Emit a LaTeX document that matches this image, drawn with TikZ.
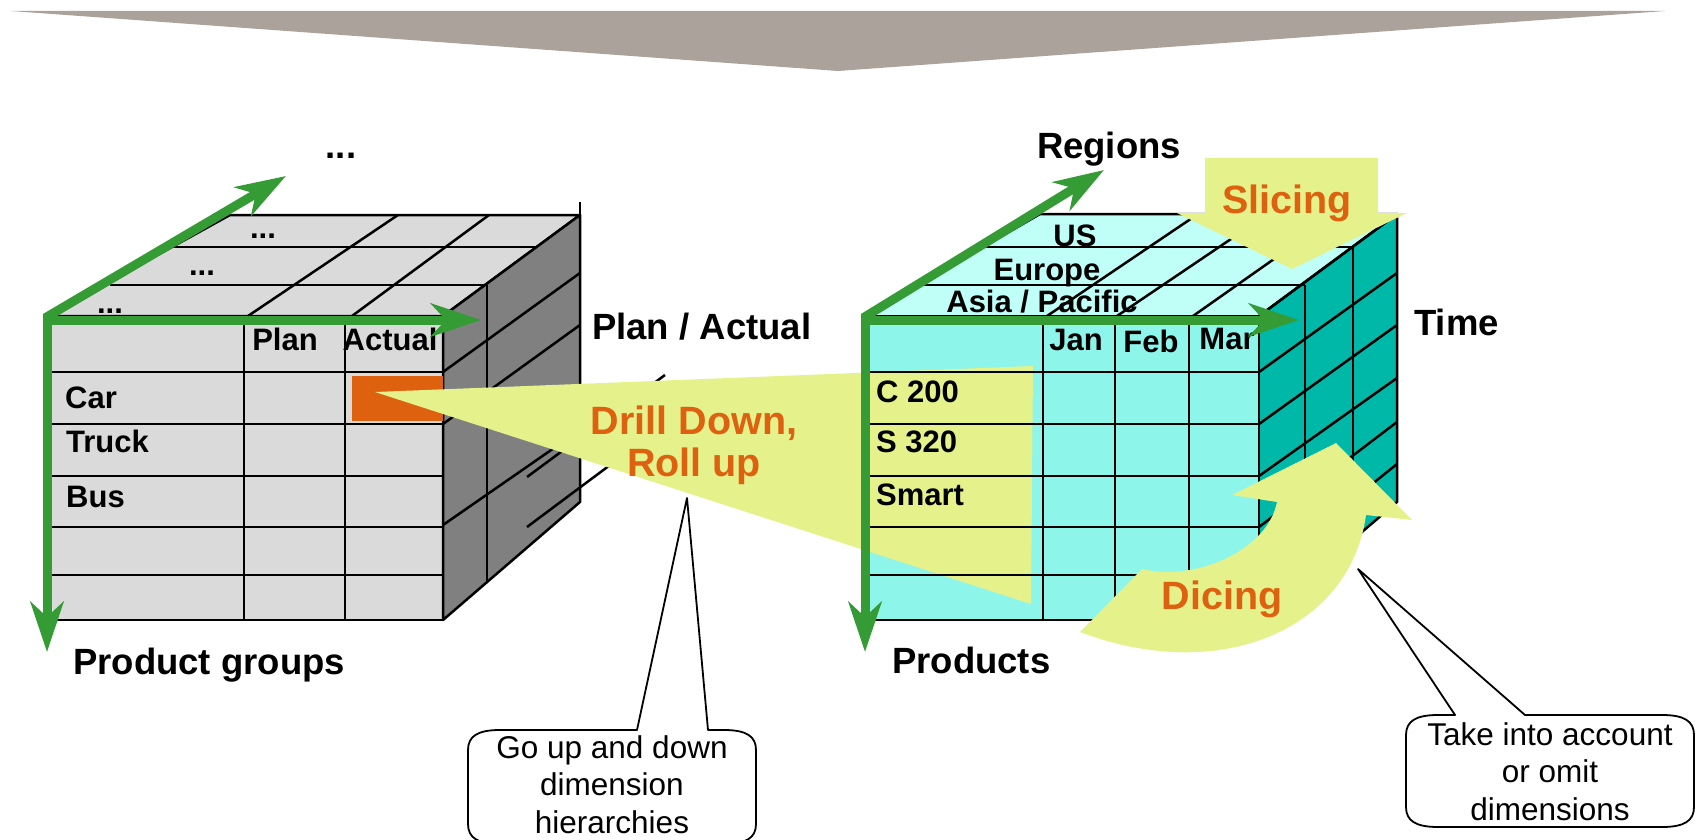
\documentclass[tikz,border=0pt]{standalone}
\usepackage{fontspec}
\setmainfont{Liberation Sans}
\usetikzlibrary{arrows.meta}
\definecolor{bannergray}{RGB}{171,162,156}
\definecolor{cubegray}{RGB}{218,218,218}
\definecolor{sidegray}{RGB}{128,128,128}
\definecolor{frontcyan}{RGB}{142,245,234}
\definecolor{topcyan}{RGB}{191,255,248}
\definecolor{sideteal}{RGB}{0,184,168}
\definecolor{hiyellow}{RGB}{229,242,140}
\definecolor{oporange}{RGB}{222,97,16}
\definecolor{axisgreen}{RGB}{53,155,53}
\begin{document}
\begin{tikzpicture}[x=1pt,y=-1pt,
  grid/.style={line width=2.5pt,line join=round},
  axis/.style={line width=9pt,draw=axisgreen,-{Stealth[length=50pt,width=33pt,inset=15pt]}},
  cell/.style={font=\fontsize{31}{34}\selectfont\bfseries,inner sep=0pt},
  dimlabel/.style={font=\fontsize{36.5}{40}\selectfont\bfseries,inner sep=0pt},
  oplabel/.style={font=\fontsize{39.5}{42}\selectfont\bfseries,text=oporange,inner sep=0pt,align=center},
  note/.style={font=\fontsize{31.5}{37.5}\selectfont,inner sep=0pt,align=center},
  callout/.style={draw,line width=1.8pt,fill=white,line join=round}]
\useasboundingbox (0,0) rectangle (1695,840);
\clip (0,0) rectangle (1695,840);
\fill[bannergray] (11,11) -- (1665,11) -- (838,71) -- cycle;
\coordinate (l_1) at (47,316);
\coordinate (l_2) at (443,316);
\coordinate (l_3) at (443,620);
\coordinate (l_4) at (47,620);
\coordinate (l_5) at (230,215);
\coordinate (l_6) at (580,215);
\coordinate (l_7) at (580,502);
\filldraw[grid,fill=cubegray] (l_1) rectangle (l_3);
\filldraw[grid,fill=cubegray] (l_1) -- (l_5) -- (l_6) -- (l_2) -- cycle;
\filldraw[grid,fill=sidegray] (l_2) -- (l_6) -- (l_7) -- (l_3) -- cycle;
\foreach \y in {372,424,476,527,575} \draw[grid] (47,\y) -- (443,\y);
\foreach \x in {244,345} \draw[grid] (\x,316) -- (\x,620);
\draw[grid] (173,247) -- (536,247);
\draw[grid] (110,285) -- (487,285);
\draw[grid] (248,316) -- (398,215);
\draw[grid] (352,316) -- (489,215);
\draw[grid] (487,285) -- (487,582);
\draw[grid] (580,202) -- (l_7);
\draw[grid] (443,372) -- (580,273);
\draw[grid] (443,424) -- (580,325);
\draw[grid] (443,525) -- (580,430);
\draw[grid] (527,477) -- (665,375);
\draw[grid] (527,527) -- (665,424);
\fill[oporange] (352,376) rectangle (443,421);
\coordinate (r_1) at (864,316);
\coordinate (r_2) at (1259,316);
\coordinate (r_3) at (1259,620);
\coordinate (r_4) at (864,620);
\coordinate (r_5) at (1040,214);
\coordinate (r_6) at (1397,214);
\coordinate (r_7) at (1397,502);
\fill[frontcyan] (r_1) rectangle (r_3);
\fill[topcyan] (r_1) -- (r_5) -- (r_6) -- (r_2) -- cycle;
\fill[sideteal] (r_2) -- (r_6) -- (r_7) -- (r_3) -- cycle;
\coordinate (d_1) at (375,392);
\coordinate (d_2) at (1033,366);
\coordinate (d_3) at (1031,604);
\fill[hiyellow] (d_1) -- (d_2) -- (d_3) -- cycle;
\draw[grid] (r_1) rectangle (r_3);
\draw[grid] (r_1) -- (r_5) -- (r_6) -- (r_2);
\draw[grid] (r_2) -- (r_6) -- (r_7) -- (r_3);
\foreach \y in {372,424,476,527,575} \draw[grid] (864,\y) -- (1259,\y);
\foreach \x in {1043,1115,1189} \draw[grid] (\x,316) -- (\x,620);
\draw[grid] (985,247) -- (1353,247);
\draw[grid] (924,285) -- (1305,285);
\draw[grid] (1047,316) -- (1198,214);
\draw[grid] (1117,316) -- (1268,214);
\draw[grid] (1193,316) -- (1338,214);
\draw[grid] (1305,285) -- (1305,581);
\draw[grid] (1353,247) -- (1353,540);
\foreach \a/\b in {372/273,424/325,476/378,527/422,575/464} \draw[grid] (1259,\a) -- (1397,\b);
\fill[hiyellow] (1205,158) -- (1378,158) -- (1378,213) -- (1407,213) -- (1292,269) -- (1177,213) -- (1205,213) -- cycle;
\fill[hiyellow] (1080,632) -- (1142,569) .. controls (1200,582) and (1268,548) .. (1277,502) -- (1232,495) -- (1336,443) -- (1412,520) -- (1366,515) .. controls (1350,630) and (1220,685) .. (1080,632) -- cycle;
\node[cell,anchor=base] (plan) at (285,350) {Plan};
\node[cell,anchor=base] (actual) at (390,350) {Actual};
\node[cell,anchor=base west] (car) at (65,408) {Car};
\node[cell,anchor=base west] (truck) at (66,452) {Truck};
\node[cell,anchor=base west] (bus) at (66,507) {Bus};
\node[cell,anchor=base] (dots_1) at (263,238) {...};
\node[cell,anchor=base] (dots_2) at (202,275) {...};
\node[cell,anchor=base] (dots_3) at (110,313) {...};
\node[dimlabel,anchor=base] (dots_4) at (341,159) {...};
\node[dimlabel,anchor=base west] (groups) at (73,674) {Product groups};
\node[dimlabel,anchor=base west] (planactual) at (592,339) {Plan / Actual};
\node[cell,anchor=base] (jan) at (1076,350) {Jan};
\node[cell,anchor=base] (feb) at (1151,352) {Feb};
\node[cell,anchor=base] (mar) at (1227,349) {Mar};
\node[cell,anchor=base west] (c200) at (876,402) {C 200};
\node[cell,anchor=base west] (s320) at (876,452) {S 320};
\node[cell,anchor=base west] (smart) at (876,505) {Smart};
\node[cell,anchor=base] (us) at (1075,246) {US};
\node[cell,anchor=base] (europe) at (1047,280) {Europe};
\node[cell,anchor=base] (asia) at (1042,312) {Asia / Pacific};
\node[dimlabel,anchor=base] (regions) at (1109,159) {Regions};
\node[dimlabel,anchor=base west] (time) at (1414,335) {Time};
\node[dimlabel,anchor=base west] (products) at (892,673) {Products};
\node[oplabel,anchor=base] (drill) at (694,476) {Drill Down,\\Roll up};
\node[oplabel,anchor=base] (slicing) at (1287,213) {Slicing};
\node[oplabel,anchor=base] (dicing) at (1222,609) {Dicing};
\draw[axis] (47,314) -- (47,652);
\draw[axis] (43,320) -- (481,320);
\draw[axis] (45,318) -- (286,176);
\draw[axis] (865,314) -- (865,652);
\draw[axis] (861,320) -- (1299,320);
\draw[axis] (863,318) -- (1104,170);
\coordinate (tip_1) at (687,498);
\coordinate (tip_2) at (1358,569);
\draw[callout] (637,730) -- (500,730) .. controls (478,730) and (468,736) .. (468,750) -- (468,824) .. controls (468,838) and (478,844) .. (500,844) -- (724,844) .. controls (746,844) and (756,838) .. (756,824) -- (756,750) .. controls (756,736) and (746,730) .. (724,730) -- (708,730) -- (tip_1) -- cycle;
\draw[callout] (1455,715) -- (1438,715) .. controls (1416,715) and (1406,721) .. (1406,735) -- (1406,807) .. controls (1406,821) and (1416,827) .. (1438,827) -- (1662,827) .. controls (1684,827) and (1694,821) .. (1694,807) -- (1694,735) .. controls (1694,721) and (1684,715) .. (1662,715) -- (1525,715) -- (tip_2) -- cycle;
\node[note,anchor=base] (goup) at (612,833) {Go up and down\\dimension\\hierarchies};
\node[note,anchor=base] (takeinto) at (1550,820) {Take into account\\or omit\\dimensions};
\end{tikzpicture}
\end{document}
